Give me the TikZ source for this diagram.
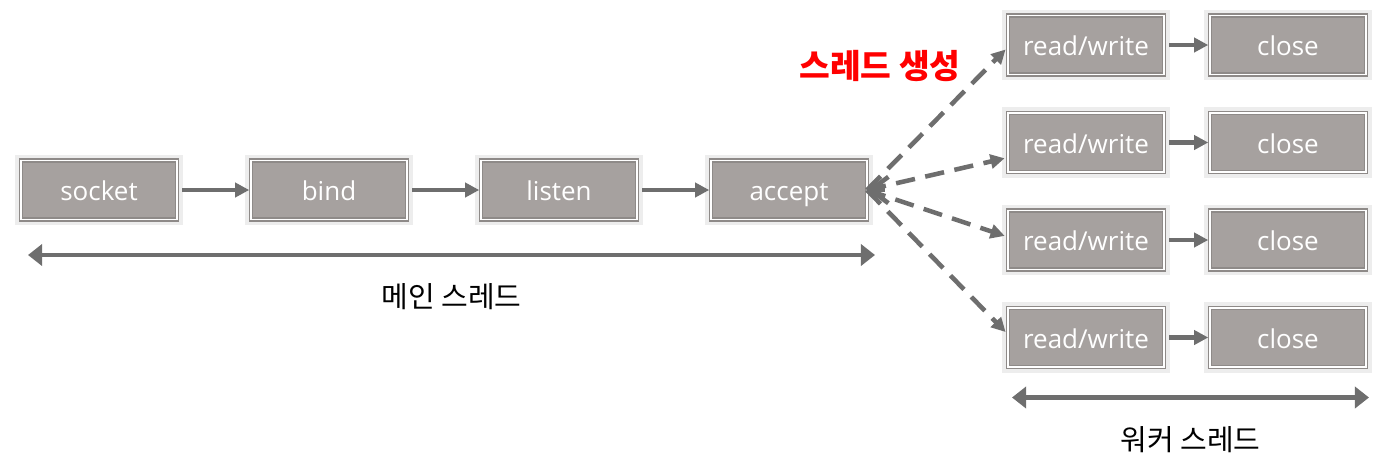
\documentclass[tikz,border=0pt]{standalone}
\usepackage{fontspec}
\setmainfont{Open Sans}
\newfontfamily\kr{Noto Sans CJK KR}
\usepackage{tikz}
\usetikzlibrary{arrows.meta, positioning}
\usepackage{xcolor}
\definecolor{boxfill}{HTML}{A6A19F}
\definecolor{boxline}{HTML}{8E8A88}
\definecolor{boxframe}{HTML}{EDEDED}
\definecolor{arrowgray}{HTML}{6E6E6E}

\begin{document}
\begin{tikzpicture}[
node distance=1.48cm,
box/.style={draw=boxline,
double=white,
double distance=1.1pt,
line width=0.7pt,
fill=boxfill,
preaction={draw=boxframe, line width=6.8pt},
rectangle,
outer sep=0pt,
minimum width=3.12cm,
minimum height=1.18cm,
text height=12.5pt,
text depth=0.5pt,
text=white,
font=\fontsize{14.8}{17}\selectfont},
arrow/.style={-{Triangle[length=8pt, width=8pt]}, line width=2.6pt, draw=arrowgray, shorten <=3pt, shorten >=1pt},
spawn/.style={-{Triangle[length=8pt, width=8pt]}, line width=2.6pt, draw=arrowgray, dash pattern=on 11pt off 6pt, shorten >=2pt},
forktip/.style={{Straight Barb[length=10pt, width=15pt]}-, line width=2.6pt, draw=arrowgray},
span/.style={{Triangle[length=8pt, width=12pt]}-{Triangle[length=8pt, width=12pt]}, line width=2.6pt, draw=arrowgray},
lbl/.style={font=\kr\fontsize{16.5}{19}\selectfont}
]

\useasboundingbox (-1.98,-5.54) rectangle (25.98,3.8);

\node[box] (socket) {socket};
\node[box, right=of socket] (bind) {bind};
\node[box, right=of bind] (listen) {listen};
\node[box, right=of listen] (accept) {accept};

\node[box] (rw1) at ([xshift=5.94cm, yshift=2.9cm]accept) {read/write};
\node[box, below=0.77cm of rw1] (rw2) {read/write};
\node[box, below=0.77cm of rw2] (rw3) {read/write};
\node[box, below=0.77cm of rw3] (rw4) {read/write};

\node[box, right=0.92cm of rw1] (close1) {close};
\node[box, right=0.92cm of rw2] (close2) {close};
\node[box, right=0.92cm of rw3] (close3) {close};
\node[box, right=0.92cm of rw4] (close4) {close};

\node[font=\kr\bfseries\fontsize{19}{22}\selectfont, text=red] (spawnlbl) at ([xshift=1.82cm, yshift=2.48cm]accept) {스레드 생성};

\coordinate (mainL) at ([xshift=0.14cm, yshift=-1.3cm]socket.west);
\coordinate (mainR) at ([xshift=0.16cm, yshift=-1.3cm]accept.east);
\coordinate (wkL) at ([xshift=0.08cm, yshift=-1.2cm]rw4.west);
\coordinate (wkR) at ([xshift=0.06cm, yshift=-1.2cm]close4.east);
\coordinate (fork) at ([xshift=10pt]accept.east);

\draw[arrow] (socket) -- (bind);
\draw[arrow] (bind) -- (listen);
\draw[arrow] (listen) -- (accept);

\draw[arrow] (rw1) -- (close1);
\draw[arrow] (rw2) -- (close2);
\draw[arrow] (rw3) -- (close3);
\draw[arrow] (rw4) -- (close4);

\draw[spawn] (accept.east) -- ([yshift=-0.04cm]rw1.west);
\draw[spawn] (accept.east) -- ([yshift=-0.3cm]rw2.west);
\draw[spawn] (accept.east) -- ([yshift=0.06cm]rw3.west);
\draw[spawn] (accept.east) -- ([yshift=0.06cm]rw4.west);
\draw[forktip] (accept.east) -- (fork);

\draw[span] (mainL) -- (mainR) node[lbl, midway, yshift=-0.84cm] (mainlbl) {메인 스레드};
\draw[span] (wkL) -- (wkR) node[lbl, midway, yshift=-0.84cm] (wklbl) {워커 스레드};

\end{tikzpicture}
\end{document}
